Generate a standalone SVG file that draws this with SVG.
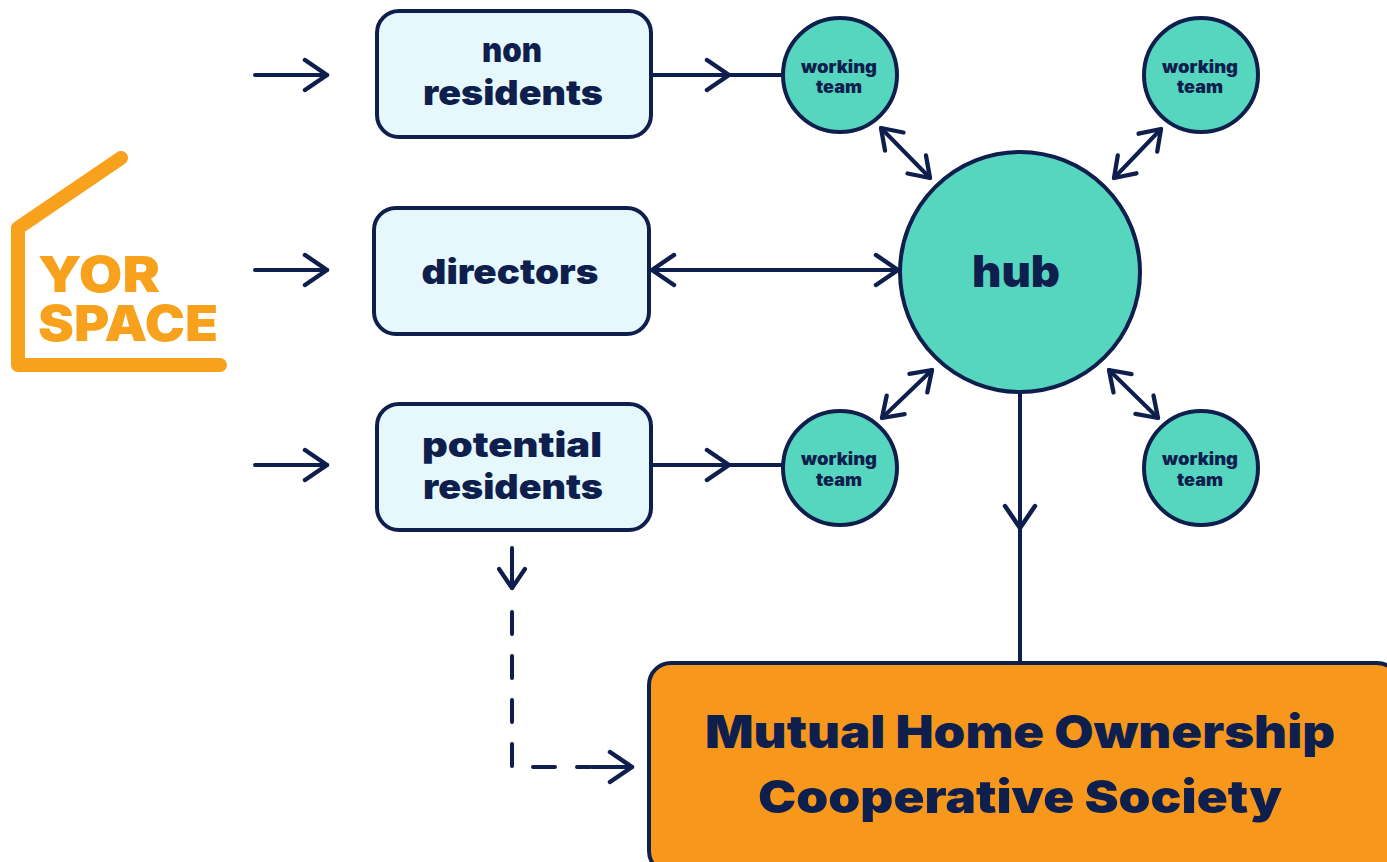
<svg xmlns="http://www.w3.org/2000/svg" width="1387" height="862" viewBox="0 0 1387 862">
<defs>
<marker id="chev" viewBox="0 0 30 36" refX="26" refY="18" markerWidth="30" markerHeight="36" markerUnits="userSpaceOnUse" orient="auto-start-reverse">
<path d="M4,3 L26,18 L4,33" fill="none" stroke="#0e1f4d" stroke-width="4.5" stroke-linecap="round" stroke-linejoin="round"/>
</marker>
<marker id="chevs" viewBox="0 0 30 36" refX="26" refY="18" markerWidth="26" markerHeight="31" markerUnits="userSpaceOnUse" orient="auto-start-reverse">
<path d="M4,3 L26,18 L4,33" fill="none" stroke="#0e1f4d" stroke-width="5" stroke-linecap="round" stroke-linejoin="round"/>
</marker>
<style>
.box{fill:#e7f8fc;stroke:#0e1f4d;stroke-width:4}
.circ{fill:#56d5bf;stroke:#0e1f4d;stroke-width:4}
.ln{fill:none;stroke:#0e1f4d;stroke-width:4;stroke-linecap:round}
.t{font-family:Inter,"Liberation Sans",sans-serif;font-weight:900;fill:#0e1f4d;text-anchor:middle}
.lbl{font-size:34px}
.wt{font-size:17px}
.logo{font-family:Inter,"Liberation Sans",sans-serif;font-weight:900;fill:#f7a11d;font-size:50px}
</style>
</defs>
<rect width="1387" height="862" fill="#ffffff"/>
<g id="logo">
<polyline points="121,158 18,228 18,365 220,365" fill="none" stroke="#f7a11d" stroke-width="14" stroke-linecap="round" stroke-linejoin="round"/>
<text class="logo" x="38" y="292" textLength="122" lengthAdjust="spacingAndGlyphs">YOR</text>
<text class="logo" x="38" y="341" textLength="180" lengthAdjust="spacingAndGlyphs">SPACE</text>
</g>
<g id="connectors">
<line class="ln" x1="255" y1="75" x2="327" y2="75" marker-end="url(#chev)"/>
<line class="ln" x1="255" y1="270" x2="327" y2="270" marker-end="url(#chev)"/>
<line class="ln" x1="255" y1="465" x2="327" y2="465" marker-end="url(#chev)"/>
<line class="ln" x1="652" y1="75" x2="729" y2="75" marker-end="url(#chev)"/>
<line class="ln" x1="727" y1="75" x2="783" y2="75"/>
<line class="ln" x1="652" y1="465" x2="729" y2="465" marker-end="url(#chev)"/>
<line class="ln" x1="727" y1="465" x2="783" y2="465"/>
<line class="ln" x1="652" y1="270" x2="898" y2="270" marker-start="url(#chev)" marker-end="url(#chev)"/>
<line class="ln" x1="881" y1="128" x2="930" y2="178" marker-start="url(#chevs)" marker-end="url(#chevs)"/>
<line class="ln" x1="1161" y1="129" x2="1114" y2="178" marker-start="url(#chevs)" marker-end="url(#chevs)"/>
<line class="ln" x1="932" y1="370" x2="882" y2="418" marker-start="url(#chevs)" marker-end="url(#chevs)"/>
<line class="ln" x1="1109" y1="370" x2="1158" y2="418" marker-start="url(#chevs)" marker-end="url(#chevs)"/>
<line class="ln" x1="1020" y1="392" x2="1020" y2="528" marker-end="url(#chev)"/>
<line class="ln" x1="1020" y1="526" x2="1020" y2="662"/>
<line class="ln" x1="512" y1="548" x2="512" y2="588" marker-end="url(#chevs)"/>
<polyline class="ln" points="512,612 512,767 590,767" stroke-dasharray="22,22"/>
<line class="ln" x1="592" y1="767" x2="632" y2="767" marker-end="url(#chev)"/>
</g>
<g id="non-residents">
<rect class="box" x="377" y="11" width="274" height="126" rx="22"/>
<text class="t lbl" x="512" y="62" textLength="60" lengthAdjust="spacingAndGlyphs">non</text>
<text class="t lbl" x="513" y="105" textLength="180" lengthAdjust="spacingAndGlyphs">residents</text>
</g>
<g id="directors">
<rect class="box" x="374" y="208" width="275" height="126" rx="22"/>
<text class="t lbl" x="510" y="284" textLength="177" lengthAdjust="spacingAndGlyphs">directors</text>
</g>
<g id="potential-residents">
<rect class="box" x="377" y="404" width="274" height="126" rx="22"/>
<text class="t lbl" x="512" y="457" textLength="180" lengthAdjust="spacingAndGlyphs">potential</text>
<text class="t lbl" x="513" y="499" textLength="180" lengthAdjust="spacingAndGlyphs">residents</text>
</g>
<g id="wt-top-left">
<circle class="circ" cx="840" cy="75" r="57"/>
<text class="t wt" x="839" y="73" textLength="76" lengthAdjust="spacingAndGlyphs">working</text>
<text class="t wt" x="839" y="93" textLength="46" lengthAdjust="spacingAndGlyphs">team</text>
</g>
<g id="wt-top-right">
<circle class="circ" cx="1201" cy="75" r="57"/>
<text class="t wt" x="1200" y="73" textLength="76" lengthAdjust="spacingAndGlyphs">working</text>
<text class="t wt" x="1200" y="93" textLength="46" lengthAdjust="spacingAndGlyphs">team</text>
</g>
<g id="wt-bottom-left">
<circle class="circ" cx="840" cy="468" r="57"/>
<text class="t wt" x="839" y="465" textLength="76" lengthAdjust="spacingAndGlyphs">working</text>
<text class="t wt" x="839" y="486" textLength="46" lengthAdjust="spacingAndGlyphs">team</text>
</g>
<g id="wt-bottom-right">
<circle class="circ" cx="1201" cy="468" r="57"/>
<text class="t wt" x="1200" y="465" textLength="76" lengthAdjust="spacingAndGlyphs">working</text>
<text class="t wt" x="1200" y="486" textLength="46" lengthAdjust="spacingAndGlyphs">team</text>
</g>
<g id="hub">
<circle class="circ" cx="1020" cy="272" r="120"/>
<text class="t" x="1016" y="287" font-size="44" textLength="88" lengthAdjust="spacingAndGlyphs">hub</text>
</g>
<g id="mhocs">
<rect x="649" y="663" width="750" height="210" rx="22" fill="#f7981d" stroke="#0e1f4d" stroke-width="4"/>
<text class="t" x="1020" y="748" font-size="45" textLength="630" lengthAdjust="spacingAndGlyphs">Mutual Home Ownership</text>
<text class="t" x="1020" y="813" font-size="45" textLength="524" lengthAdjust="spacingAndGlyphs">Cooperative Society</text>
</g>
</svg>
